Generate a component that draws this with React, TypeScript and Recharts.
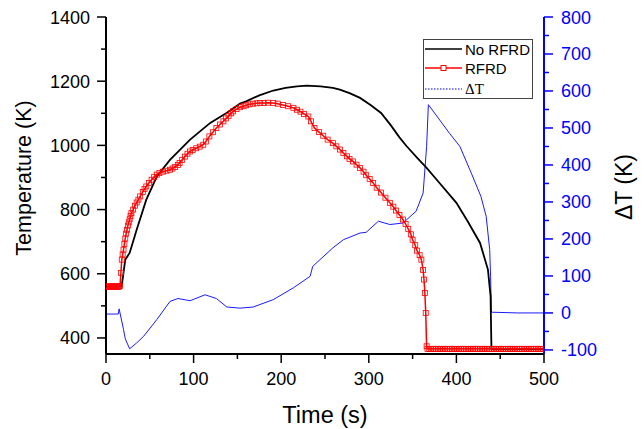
import React from 'react';
import { ComposedChart, Line, XAxis, YAxis, Legend, Label } from 'recharts';

// ---- data ----
const noRfrdTime = [0, 17, 18, 22, 27, 35, 46, 58, 73, 96, 119, 138, 153, 160, 175, 191, 205, 218, 229, 245, 259, 267, 278, 290, 302, 314, 325, 335, 343, 355, 366, 380, 400, 413, 427, 436, 439, 440, 441, 470, 500];
const noRfrdTemp = [560, 560, 563, 644, 665, 737, 831, 903, 955, 1018, 1070, 1102, 1130, 1137, 1156, 1171, 1179, 1184, 1186, 1184, 1179, 1174, 1163, 1148, 1126, 1101, 1063, 1025, 998, 962, 930, 885, 821, 763, 696, 613, 530, 366, 365, 365, 365];

const rfrdTime = [
  0, 1, 2, 3, 4, 5, 6, 7, 8, 9, 10, 11, 12, 13, 14, 15, 16, 17, 18, 19, 20, 21, 22, 23, 24, 25, 26, 27, 28, 29,
  31, 33, 35, 37, 39, 42, 44, 46, 49, 52, 55, 58, 61, 65, 69, 73, 76, 79, 82, 84, 87, 90, 93, 96, 99, 103, 107,
  111, 114, 118, 122, 126, 130, 134, 137, 140, 143, 145, 149, 153, 157, 160, 164, 168, 172, 176, 180, 185, 191,
  196, 202, 208, 214, 218, 222, 226, 231, 234, 238, 243, 248, 253, 259, 263, 267, 271, 275, 278, 282, 286, 290,
  294, 297, 301, 305, 309, 314, 319, 324, 328, 331, 335, 339, 342, 345, 348, 350, 353, 355, 358, 360, 362, 363,
  364, 365, 366, 367, 369, 371, 373, 375, 377, 379, 381, 383, 385, 387, 389, 391, 393, 395, 397, 399, 401, 403,
  405, 407, 409, 411, 413, 415, 417, 419, 421, 423, 425, 427, 429, 431, 433, 435, 437, 439, 441, 443, 445, 447,
  449, 451, 453, 455, 457, 459, 461, 463, 465, 467, 469, 471, 473, 475, 477, 479, 481, 483, 485, 487, 489, 491,
  493, 495, 497, 499,
];
const rfrdTemp = [
  560, 560, 560, 560, 560, 560, 560, 560, 560, 560, 560, 560, 560, 560, 560, 560, 562, 603, 644, 660, 675, 693, 710, 725, 737, 750, 760, 770, 780, 789,
  800, 812, 822, 831, 841, 855, 864, 872, 883, 893, 902, 909, 914, 918, 921, 924, 928, 933, 939, 945, 955, 965, 974, 981, 986, 991, 996,
  1002, 1012, 1028, 1041, 1054, 1065, 1075, 1084, 1092, 1100, 1106, 1113, 1119, 1122, 1125, 1128, 1130, 1131, 1132, 1132, 1133, 1132,
  1130, 1126, 1122, 1117, 1111, 1105, 1098, 1090, 1075, 1054, 1042, 1030, 1018, 1007, 997, 987, 976, 966, 958, 950, 940, 930,
  918, 907, 895, 883, 868, 853, 837, 821, 809, 797, 783, 769, 755, 740, 723, 706, 689, 672, 658, 644, 612, 582,
  540, 478, 374, 366, 366, 366, 366, 366, 366, 366, 366, 366, 366, 366, 366, 366, 366, 366, 366, 366, 366, 366,
  366, 366, 366, 366, 366, 366, 366, 366, 366, 366, 366, 366, 366, 366, 366, 366, 366, 366, 366, 366, 366, 366,
  366, 366, 366, 366, 366, 366, 366, 366, 366, 366, 366, 366, 366, 366, 366, 366, 366, 366, 366, 366, 366, 366,
  366, 366, 366, 366,
];

const deltaTime = [0, 14, 15, 20, 22, 27, 35, 43, 58, 73, 82, 96, 113, 126, 138, 153, 168, 191, 214, 233, 236, 259, 271, 290, 297, 311, 324, 339, 354, 362, 366, 368, 392, 404, 417, 428, 434, 438, 439, 440, 470, 500];
const deltaValue = [-3, -3, 11, -45, -70, -97, -81, -63, -18, 31, 39, 33, 49, 39, 16, 13, 16, 36, 68, 99, 126, 176, 198, 216, 218, 248, 239, 243, 275, 324, 450, 563, 486, 450, 378, 315, 261, 171, 99, 2, 0, 0];

const xTicks = [0, 50, 100, 150, 200, 250, 300, 350, 400, 450, 500];
const leftTicks = [400, 500, 600, 700, 800, 900, 1000, 1100, 1200, 1300, 1400];
const rightTicks = [-100, -50, 0, 50, 100, 150, 200, 250, 300, 350, 400, 450, 500, 550, 600, 650, 700, 750, 800];

const seriesNames = ['No RFRD', 'RFRD', 'ΔT'];

const noRfrdData = noRfrdTime.map((t, i) => ({ t, v: noRfrdTemp[i] }));
const rfrdData = rfrdTime.map((t, i) => ({ t, v: rfrdTemp[i] }));
const deltaData = deltaTime.map((t, i) => ({ t, v: deltaValue[i] }));

const FONT = '"Liberation Sans", Arial, sans-serif';
const BLUE = '#0000ff';
const RED = '#ff0000';

const LeftTick = (props: any) => {
  const { x, y, payload } = props;
  const major = payload.value % 200 === 0;
  return (
    <g>
      <line x1={x - (major ? 9 : 5)} x2={x} y1={y} y2={y} stroke="#000" strokeWidth={1.5} />
      {major && (
        <text x={x - 16} y={y + 6.5} textAnchor="end" fontSize={18} fontFamily={FONT} fill="#000">
          {payload.value}
        </text>
      )}
    </g>
  );
};

const RightTick = (props: any) => {
  const { x, y, payload } = props;
  const major = payload.value % 100 === 0;
  return (
    <g>
      <line x1={x} x2={x + (major ? 9 : 5)} y1={y} y2={y} stroke={BLUE} strokeWidth={1.5} />
      {major && (
        <text x={x + 17} y={y + 6.5} textAnchor="start" fontSize={18} fontFamily={FONT} fill={BLUE}>
          {payload.value}
        </text>
      )}
    </g>
  );
};

const BottomTick = (props: any) => {
  const { x, y, payload } = props;
  const major = payload.value % 100 === 0;
  return (
    <g>
      <line x1={x} x2={x} y1={y} y2={y + (major ? 9 : 5)} stroke="#000" strokeWidth={1.5} />
      {major && (
        <text x={x} y={y + 31} textAnchor="middle" fontSize={18} fontFamily={FONT} fill="#000">
          {payload.value}
        </text>
      )}
    </g>
  );
};

const SquareDot = (props: any) => {
  const { cx, cy, index } = props;
  if (cx == null || cy == null) return <g key={index} />;
  return <rect key={index} x={cx - 2.5} y={cy - 2.5} width={5} height={5} fill="none" stroke={RED} strokeWidth={0.8} />;
};

const LegendBox = () => (
  <div
    style={{
      width: 110,
      height: 60,
      border: '1px solid #444',
      boxSizing: 'border-box',
      background: '#fff',
      position: 'relative',
    }}
  >
    <svg width={108} height={58} style={{ position: 'absolute', left: 0, top: 0 }}>
      <line x1={1} x2={38} y1={9} y2={9} stroke="#000" strokeWidth={1.5} />
      <text x={41} y={14.5} fontSize={15} fontFamily={FONT} fill="#000">{seriesNames[0]}</text>
      <line x1={1} x2={38} y1={28} y2={28} stroke={RED} strokeWidth={1.5} />
      <rect x={17} y={25.5} width={5} height={5} fill="#fff" stroke={RED} strokeWidth={1} />
      <text x={41} y={33.5} fontSize={15} fontFamily={FONT} fill="#000">{seriesNames[1]}</text>
      <line x1={1} x2={38} y1={49} y2={49} stroke={BLUE} strokeWidth={1.2} strokeDasharray="1.5 1.5" />
      <text x={41} y={54} fontSize={15} fontFamily={'"Liberation Serif", "Times New Roman", serif'} fill="#000">{seriesNames[2]}</text>
    </svg>
  </div>
);

export default function App() {
  return (
    <div style={{ position: 'absolute', left: 0, top: 0, width: 644, height: 429, background: '#fff' }}>
      <ComposedChart width={644} height={429} margin={{ top: 17, right: 0, bottom: 0, left: 0 }}>
        <XAxis
          xAxisId="x"
          dataKey="t"
          type="number"
          domain={[0, 500]}
          ticks={xTicks}
          interval={0}
          height={75}
          tickSize={0}
          tickMargin={0}
          tickLine={false}
          tick={<BottomTick />}
          axisLine={{ stroke: '#000', strokeWidth: 2 }}
          allowDataOverflow
        >
          <Label
            content={() => (
              <text x={325} y={423} textAnchor="middle" fontSize={23.5} fontFamily={FONT} fill="#000">
                Time (s)
              </text>
            )}
          />
        </XAxis>
        <XAxis
          xAxisId="top"
          orientation="top"
          type="number"
          domain={[0, 500]}
          height={0}
          tick={false}
          tickLine={false}
          axisLine={{ stroke: BLUE, strokeWidth: 2 }}
        />
        <YAxis
          yAxisId="left"
          orientation="left"
          type="number"
          domain={[350, 1400]}
          ticks={leftTicks}
          interval={0}
          width={106}
          tickSize={0}
          tickMargin={0}
          tickLine={false}
          tick={<LeftTick />}
          axisLine={{ stroke: '#000', strokeWidth: 2 }}
          allowDataOverflow
        >
          <Label
            content={() => (
              <text
                x={0}
                y={0}
                transform="translate(31,178) rotate(-90)"
                textAnchor="middle"
                fontSize={21.5}
                fontFamily={FONT}
                fill="#000"
              >
                Temperature (K)
              </text>
            )}
          />
        </YAxis>
        <YAxis
          yAxisId="right"
          orientation="right"
          type="number"
          domain={[-111, 800]}
          ticks={rightTicks}
          interval={0}
          width={100}
          tickSize={0}
          tickMargin={0}
          tickLine={false}
          tick={<RightTick />}
          axisLine={{ stroke: BLUE, strokeWidth: 2 }}
          allowDataOverflow
        >
          <Label
            content={() => (
              <text
                x={0}
                y={0}
                transform="translate(632,187) rotate(-90)"
                textAnchor="middle"
                fontSize={23}
                fontFamily={FONT}
                fill="#000"
              >
                ΔT (K)
              </text>
            )}
          />
        </YAxis>
        <Legend
          layout="horizontal"
          verticalAlign="middle"
          align="center"
          content={() => <LegendBox />}
          wrapperStyle={{ position: 'absolute', left: 423, top: 39, width: 110, height: 60 }}
        />
        <Line
          xAxisId="x"
          yAxisId="right"
          data={deltaData}
          dataKey="v"
          name={seriesNames[2]}
          type="linear"
          stroke="#1a1aff"
          strokeWidth={1}
          dot={false}
          isAnimationActive={false}
        />
        <Line
          xAxisId="x"
          yAxisId="left"
          data={noRfrdData}
          dataKey="v"
          name={seriesNames[0]}
          type="linear"
          stroke="#000"
          strokeWidth={1.8}
          dot={false}
          isAnimationActive={false}
        />
        <Line
          xAxisId="x"
          yAxisId="left"
          data={rfrdData}
          dataKey="v"
          name={seriesNames[1]}
          type="linear"
          stroke={RED}
          strokeWidth={1.5}
          dot={<SquareDot />}
          isAnimationActive={false}
        />
      </ComposedChart>
    </div>
  );
}
